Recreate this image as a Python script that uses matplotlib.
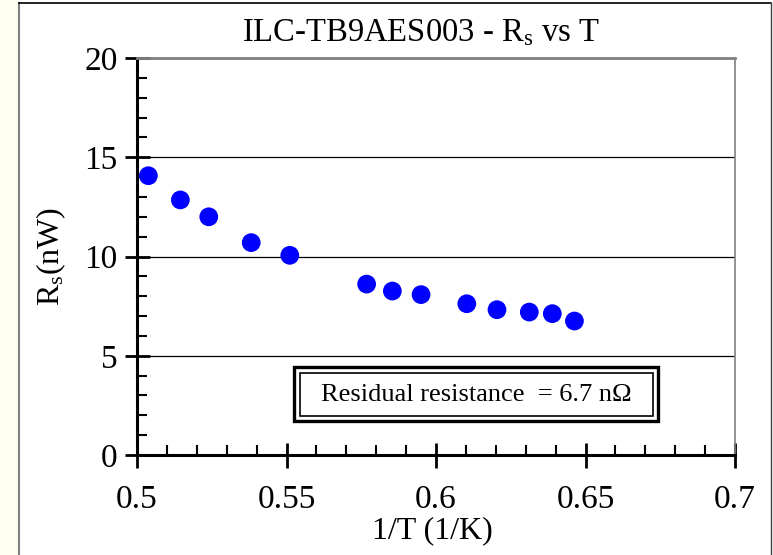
import matplotlib
matplotlib.use("Agg")
import matplotlib.pyplot as plt
import matplotlib.ticker as mticker
from matplotlib.patches import Rectangle

# data
inv_t = [0.5038, 0.5145, 0.5240, 0.5382, 0.5511, 0.5768, 0.5854,
         0.5950, 0.6103, 0.6204, 0.6312, 0.6389, 0.6463]
rs = [14.07, 12.85, 12.00, 10.70, 10.06, 8.61, 8.26,
      8.08, 7.62, 7.32, 7.20, 7.12, 6.75]
x_ticks = [0.5, 0.55, 0.6, 0.65, 0.7]
x_labels = ['0.5', '0.55', '0.6', '0.65', '0.7']
y_ticks = [0, 5, 10, 15, 20]
residual_text = 'Residual resistance  = 6.7 n\u03a9'


def main():
    plt.rcParams['font.family'] = ['Liberation Serif', 'DejaVu Serif']
    plt.rcParams['mathtext.fontset'] = 'custom'
    plt.rcParams['mathtext.rm'] = 'Liberation Serif'
    plt.rcParams['mathtext.it'] = 'Liberation Serif'

    W, H = 773, 555
    fig = plt.figure(figsize=(W / 100, H / 100), dpi=100, facecolor='white')

    # cream strip on the left and the chart frame
    fig.patches.append(Rectangle((0, 0), 18 / W, 1, transform=fig.transFigure,
                                 facecolor='#fffff0', edgecolor='none', zorder=0))
    fig.add_artist(plt.Line2D([18.5 / W, 18.5 / W], [0, 1 - 2.5 / H],
                              transform=fig.transFigure, color='#808080', lw=1.5))
    fig.add_artist(plt.Line2D([18.5 / W, 770.5 / W], [1 - 2.5 / H, 1 - 2.5 / H],
                              transform=fig.transFigure, color='black', lw=1.2))
    fig.add_artist(plt.Line2D([770.5 / W, 770.5 / W], [0, 1 - 2.5 / H],
                              transform=fig.transFigure, color='#404040', lw=1.0))

    ax = fig.add_axes([137 / W, 1 - 455 / H, (735 - 137) / W, (455 - 58) / H])
    ax.scatter(inv_t, rs, s=13.5 ** 2, color='#0000ff', edgecolors='none', zorder=3)

    ax.set_xlim(0.5, 0.7)
    ax.set_ylim(0, 20)
    ax.set_xticks(x_ticks)
    ax.set_xticklabels(x_labels)
    ax.set_yticks(y_ticks)
    ax.xaxis.set_minor_locator(mticker.MultipleLocator(0.01))
    ax.yaxis.set_minor_locator(mticker.MultipleLocator(1))

    ax.tick_params(which='major', direction='inout', length=18, width=2,
                   labelsize=24, color='black')
    ax.tick_params(axis='x', which='major', pad=12)
    ax.tick_params(axis='y', which='major', pad=5)
    ax.tick_params(which='minor', direction='in', length=7, width=1.5)

    ax.yaxis.grid(True, which='major', color='black', lw=0.9)
    ax.set_axisbelow(True)

    ax.spines['left'].set_linewidth(2.2)
    ax.spines['bottom'].set_linewidth(2.2)
    ax.spines['top'].set_color('#808080')
    ax.spines['top'].set_linewidth(2)
    ax.spines['right'].set_color('#808080')
    ax.spines['right'].set_linewidth(1.2)

    ax.set_title(r'ILC-TB9AES003 - R$_\mathrm{s}$ vs T', fontsize=23.5, pad=12,
                 x=0.475)
    ax.set_xlabel('1/T (1/K)', fontsize=23, labelpad=1)
    ax.xaxis.set_label_coords(0.494, -0.155)
    ax.set_ylabel(r'R$_\mathrm{s}$(nW)', fontsize=23, labelpad=12)

    # double-bordered annotation box
    fig.add_artist(Rectangle((294 / W, 1 - 421 / H), (658 - 294) / W, (421 - 367) / H,
                             transform=fig.transFigure, facecolor='white',
                             edgecolor='black', lw=2.4, zorder=4))
    fig.add_artist(Rectangle((299.5 / W, 1 - 416 / H), (652.5 - 299.5) / W,
                             (416 - 373) / H, transform=fig.transFigure,
                             facecolor='none', edgecolor='black', lw=1.2, zorder=5))
    fig.text(476 / W, 1 - 395 / H, residual_text, fontsize=19,
             ha='center', va='center', zorder=6)

    fig.savefig('out.png', dpi=100)
    plt.close(fig)


if __name__ == "__main__":
    main()
